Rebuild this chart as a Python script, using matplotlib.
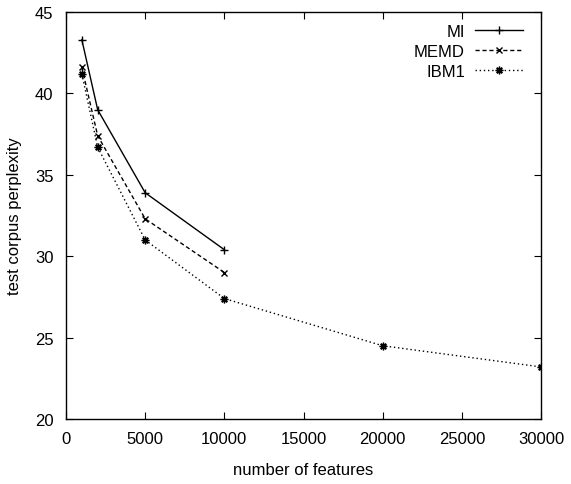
import matplotlib
matplotlib.use("Agg")
from matplotlib import pyplot as plt

plt.rcParams['font.family'] = ['Liberation Sans', 'DejaVu Sans']

# data
features_short = [1000, 2000, 5000, 10000]
features_long = [1000, 2000, 5000, 10000, 20000, 30000]
mi_vals = [43.3, 39.0, 33.9, 30.4]
memd_vals = [41.6, 37.4, 32.3, 29.0]
ibm1_vals = [41.2, 36.7, 31.0, 27.4, 24.5, 23.2]

fig = plt.figure(figsize=(5.71, 4.85), dpi=100)
ax = fig.add_axes([0.1156, 0.134, 0.832, 0.839])

ax.plot(features_short, mi_vals, color='black', lw=1.0, ls='-',
        marker='+', ms=6, mew=1.0, label='MI')
ax.plot(features_short, memd_vals, color='black', lw=1.0, ls=(0, (3, 2)),
        marker='x', ms=5, mew=1.0, label='MEMD')
ax.plot(features_long, ibm1_vals, color='black', lw=1.0, ls=(0, (1, 2)),
        marker=(8, 2, 0), ms=5.5, mew=1.0, label='IBM1')

ax.set_xlim(0, 30000)
ax.set_ylim(20, 45)
ax.set_xticks(range(0, 30001, 5000))
ax.set_yticks(range(20, 46, 5))
ax.tick_params(direction='in', top=True, right=True, length=5, labelsize=12)
ax.tick_params(axis='x', pad=8.5)
ax.tick_params(axis='y', pad=9)
for sp in ax.spines.values():
    sp.set_linewidth(1.0)

ax.set_xlabel('number of features', fontsize=12, labelpad=12)
ax.set_ylabel('test corpus perplexity', fontsize=12, labelpad=9)

ax.legend(loc='upper right', bbox_to_anchor=(0.987, 1.0), frameon=False,
          markerfirst=False, fontsize=12, handlelength=2.9,
          handletextpad=0.6, labelspacing=0.3, borderaxespad=0.3)

fig.savefig('out.png', dpi=100)
